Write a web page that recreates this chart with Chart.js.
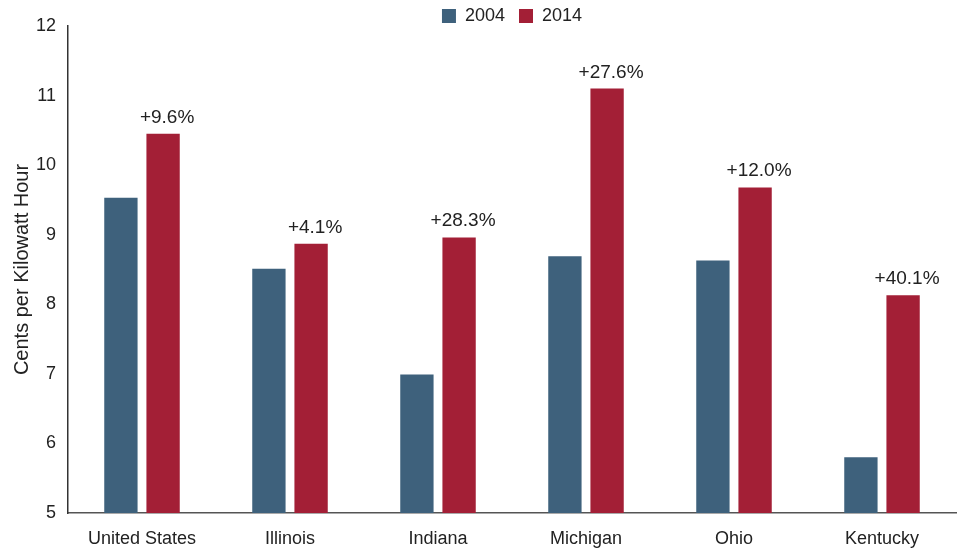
<!DOCTYPE html>
<html>
<head>
<meta charset="utf-8">
<script src="https://cdn.jsdelivr.net/npm/chart.js@4.4.0/dist/chart.umd.min.js"></script>
<style>
  html, body { margin: 0; padding: 0; background: #fff; }
  #wrap { width: 959px; height: 548px; }
</style>
</head>
<body>
<div id="wrap"><canvas id="myChart"></canvas></div>
<script>
// data
let states = ["United States", "Illinois", "Indiana", "Michigan", "Ohio", "Kentucky"]
let price2004 = [9.53, 8.51, 6.99, 8.69, 8.63, 5.80]
let price2014 = [10.45, 8.87, 8.96, 11.10, 9.68, 8.13]
let changeLabels = ["+9.6%", "+4.1%", "+28.3%", "+27.6%", "+12.0%", "+40.1%"]

const fontName = "'Liberation Sans', Arial, sans-serif"

// puts the % change above each 2014 bar
const changePlugin = {
  id: 'changeLabels',
  afterDatasetsDraw(chart) {
    let ctx = chart.ctx
    let meta = chart.getDatasetMeta(1)
    ctx.save()
    ctx.font = "19px " + fontName
    ctx.fillStyle = "#222"
    ctx.textAlign = "center"
    ctx.textBaseline = "alphabetic"
    meta.data.forEach(function (bar, i) {
      ctx.fillText(changeLabels[i], bar.x + 4, bar.y - 11)
    })
    ctx.restore()
  }
}

// legend sits a bit lower than chart.js would put it
const legendShift = {
  id: 'legendShift',
  afterLayout(chart) {
    chart.legend.top += 9
    chart.legend.bottom += 9
  }
}

new Chart(document.getElementById('myChart'), {
  type: 'bar',
  data: {
    labels: states,
    datasets: [
      { label: "2004", data: price2004, backgroundColor: "#3e617c", barPercentage: 0.79, categoryPercentage: 0.57 },
      { label: "2014", data: price2014, backgroundColor: "#a31f36", barPercentage: 0.79, categoryPercentage: 0.57 }
    ]
  },
  options: {
    responsive: true,
    maintainAspectRatio: false,
    animation: false,
    layout: { padding: { top: -16, right: 3, bottom: 0, left: 0 } },
    plugins: {
      legend: {
        position: 'top',
        fullSize: false,
        labels: {
          boxWidth: 14,
          boxHeight: 14,
          padding: 14,
          color: "#222",
          font: { family: fontName, size: 18 }
        }
      },
      tooltip: { enabled: false }
    },
    scales: {
      x: {
        afterFit(scale) { scale.height = 35 },
        grid: { display: false, drawTicks: false },
        border: { color: "#555", width: 1.5 },
        ticks: { color: "#222", font: { family: fontName, size: 18 }, padding: 15 }
      },
      y: {
        min: 5,
        max: 12,
        afterFit(scale) { scale.width = 68 },
        ticks: { stepSize: 1, color: "#222", font: { family: fontName, size: 18 }, padding: 7 },
        grid: { display: false, drawOnChartArea: false, drawTicks: true, tickLength: 5, color: "#333" },
        border: { color: "#333", width: 1.5 },
        title: {
          display: true,
          text: "Cents per Kilowatt Hour",
          color: "#222",
          font: { family: fontName, size: 20 },
          padding: { top: 10, bottom: 4 }
        }
      }
    }
  },
  plugins: [changePlugin, legendShift]
})
</script>
</body>
</html>
